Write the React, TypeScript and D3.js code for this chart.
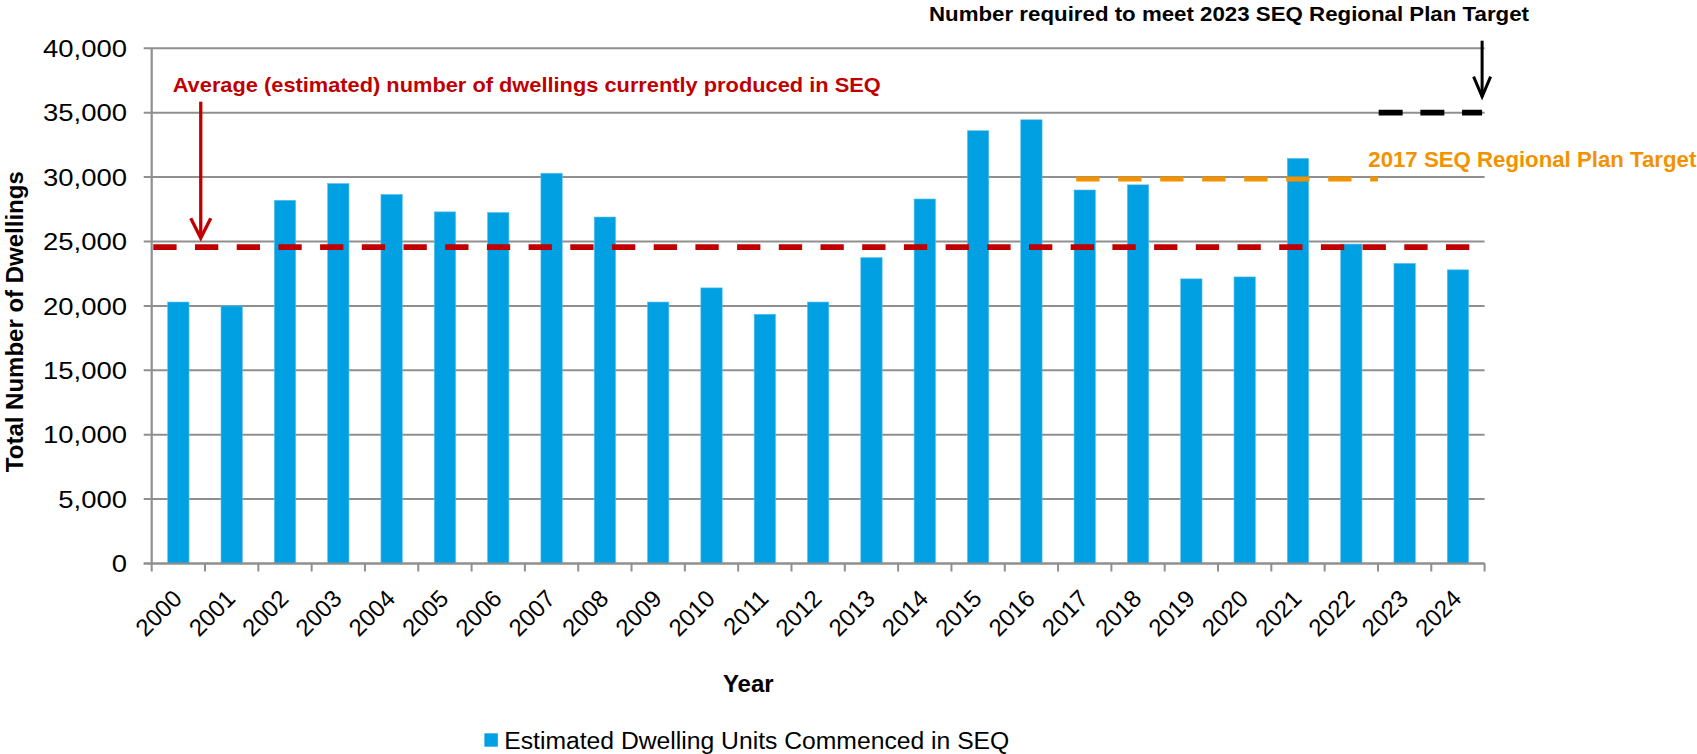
import React from 'react';
import * as d3 from 'd3';

const years = ['2000','2001','2002','2003','2004','2005','2006','2007','2008','2009','2010','2011','2012','2013','2014','2015','2016','2017','2018','2019','2020','2021','2022','2023','2024'];
const dwellings = [20300,20000,28200,29500,28650,27300,27250,30300,26900,20300,21400,19350,20300,23750,28300,33600,34450,29000,29400,22100,22250,31450,24800,23300,22800];
const yTicks = [0,5000,10000,15000,20000,25000,30000,35000,40000];

const averageLevel = 24570;
const target2017Level = 29850;
const target2023Level = 35000;

const seriesName = 'Estimated Dwelling Units Commenced in SEQ';
const yTitle = 'Total Number of Dwellings';
const xTitle = 'Year';
const averageLabel = 'Average (estimated) number of dwellings currently produced in SEQ';
const target2017Label = '2017 SEQ Regional Plan Target';
const target2023Label = 'Number required to meet 2023 SEQ Regional Plan Target';

const W = 1697, H = 754;
const left = 151.7, right = 1484.6, top = 48.3, bottom = 563.5;

const BLUE = '#00A0E2';
const RED = '#C00000';
const ORANGE = '#F39200';
const GRID = '#8F8F8F';
const SANS = '"Liberation Sans", Arial, sans-serif';

export default function App() {
  const x = d3.scaleBand<string>().domain(years).range([left, right]).paddingInner(0).paddingOuter(0);
  const bw = x.bandwidth();
  const y = d3.scaleLinear().domain([0, 40000]).range([bottom, top]);
  const fmt = d3.format(',');
  const barW = bw * 0.4;

  const tickLabelLen = (s: string) => {
    const digits = s.replace(/,/g, '').length;
    const commas = s.length - digits;
    return (digits * 0.556 + commas * 0.278) * 24 * 1.145;
  };

  const boundaries = d3.range(years.length + 1).map(i => left + i * bw);

  const redArrowX = (x('2000') as number) + 0.92 * bw;
  const blackArrowX = right - 2.5;

  return (
    <svg width={W} height={H} style={{ position: 'absolute', left: 0, top: 0 }} xmlns="http://www.w3.org/2000/svg">
      <rect x={0} y={0} width={W} height={H} fill="#fff" />
      {/* gridlines */}
      {yTicks.map(t => (
        <line key={'g' + t} x1={left - 8} x2={right} y1={y(t)} y2={y(t)} stroke={GRID} strokeWidth={2} />
      ))}
      {/* y axis */}
      <line x1={left} x2={left} y1={top} y2={bottom} stroke={GRID} strokeWidth={2.2} />
      {/* x ticks */}
      {boundaries.map((b, i) => (
        <line key={'xt' + i} x1={b} x2={b} y1={bottom} y2={bottom + 8} stroke={GRID} strokeWidth={2} />
      ))}
      {/* bars */}
      {years.map((yr, i) => (
        <rect key={yr} x={(x(yr) as number) + (bw - barW) / 2} y={y(dwellings[i])} width={barW} height={bottom - y(dwellings[i])} fill={BLUE} stroke="#5BC0EB" strokeWidth={0.6} />
      ))}
      {/* x axis line */}
      <line x1={left - 8} x2={right} y1={bottom} y2={bottom} stroke={GRID} strokeWidth={2.2} />

      {/* y tick labels */}
      {yTicks.map(t => {
        const s = fmt(t);
        return (
          <text key={'yl' + t} x={127} y={y(t) + 8.6} textAnchor="end" fontFamily={SANS} fontSize={24} fill="#000"
            textLength={tickLabelLen(s)} lengthAdjust="spacingAndGlyphs">{s}</text>
        );
      })}
      {/* x tick labels */}
      {years.map(yr => {
        const cx = (x(yr) as number) + bw / 2;
        return (
          <text key={'xl' + yr} transform={`translate(${cx + 5},${600}) rotate(-45)`} textAnchor="end" fontFamily={SANS} fontSize={24} fill="#000">{yr}</text>
        );
      })}

      {/* axis titles */}
      <text transform={`translate(22.5,${321.7}) rotate(-90)`} textAnchor="middle" fontFamily={SANS} fontWeight="bold" fontSize={24} fill="#000">{yTitle}</text>
      <text x={748.3} y={692.3} textAnchor="middle" fontFamily={SANS} fontWeight="bold" fontSize={24} fill="#000">{xTitle}</text>

      {/* average line */}
      <line x1={left + 1.6} x2={right - 1} y1={y(averageLevel)} y2={y(averageLevel)} stroke={RED} strokeWidth={5.7} strokeDasharray="23.3 18.4" />
      {/* 2017 target */}
      <line x1={(x('2017') as number) + 0.34 * bw} x2={(x('2022') as number) + bw} y1={y(target2017Level)} y2={y(target2017Level)} stroke={ORANGE} strokeWidth={5} strokeDasharray="23.3 18.7" />
      {/* 2023 target */}
      <line x1={(x('2023') as number) + 0.7} x2={(x('2024') as number) + bw - 2.5} y1={y(target2023Level)} y2={y(target2023Level)} stroke="#000" strokeWidth={5.7} strokeDasharray="24 17.7" />

      {/* red annotation */}
      <text x={172.7} y={91.7} fontFamily={SANS} fontWeight="bold" fontSize={21} fill={RED} textLength={708} lengthAdjust="spacingAndGlyphs">{averageLabel}</text>
      <line x1={redArrowX} x2={redArrowX} y1={101.7} y2={y(averageLevel) - 9} stroke={RED} strokeWidth={3.3} />
      <polyline points={`${redArrowX - 10},${y(averageLevel) - 28.7} ${redArrowX},${y(averageLevel) - 9} ${redArrowX + 10},${y(averageLevel) - 28.7}`} fill="none" stroke={RED} strokeWidth={3.3} />

      {/* black annotation */}
      <text x={929} y={21} fontFamily={SANS} fontWeight="bold" fontSize={21} fill="#000" textLength={600} lengthAdjust="spacingAndGlyphs">{target2023Label}</text>
      <line x1={blackArrowX} x2={blackArrowX} y1={40.7} y2={y(target2023Level) - 16} stroke="#000" strokeWidth={3} />
      <polyline points={`${blackArrowX - 8.5},${y(target2023Level) - 36} ${blackArrowX},${y(target2023Level) - 16} ${blackArrowX + 8.5},${y(target2023Level) - 36}`} fill="none" stroke="#000" strokeWidth={3} />

      {/* orange annotation */}
      <text x={1368.3} y={166.7} fontFamily={SANS} fontWeight="bold" fontSize={22} fill={ORANGE} textLength={328} lengthAdjust="spacingAndGlyphs">{target2017Label}</text>

      {/* legend */}
      <rect x={484.4} y={733.3} width={13.4} height={13.4} fill={BLUE} />
      <text x={504.3} y={749} fontFamily={SANS} fontSize={23.5} fill="#000" textLength={505} lengthAdjust="spacingAndGlyphs">{seriesName}</text>
    </svg>
  );
}
